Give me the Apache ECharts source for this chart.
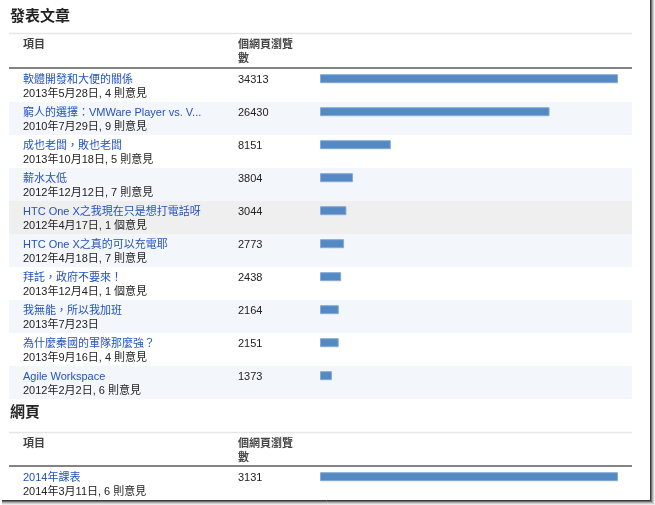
<!DOCTYPE html>
<html><head><meta charset="utf-8">
<script src="https://cdn.jsdelivr.net/npm/echarts@6/dist/echarts.min.js"></script>
<style>html,body{margin:0;padding:0;background:#fff;}#c{width:655px;height:505px;}</style>
</head><body><div id="c"></div>
<script>
// ---- data ----
const postTitles = ['軟體開發和大便的關係','窮人的選擇：VMWare Player vs. V...','成也老闆，敗也老闆','薪水太低','HTC One X之我現在只是想打電話呀','HTC One X之真的可以充電耶','拜託，政府不要來！','我無能，所以我加班','為什麼秦國的軍隊那麼強？','Agile Workspace'];
const postDates = ['2013年5月28日, 4 則意見','2010年7月29日, 9 則意見','2013年10月18日, 5 則意見','2012年12月12日, 7 則意見','2012年4月17日, 1 個意見','2012年4月18日, 7 則意見','2013年12月4日, 1 個意見','2013年7月23日','2013年9月16日, 4 則意見','2012年2月2日, 6 則意見'];
const postViews = [34313, 26430, 8151, 3804, 3044, 2773, 2438, 2164, 2151, 1373];
const pageTitles = ['2014年課表'];
const pageDates = ['2014年3月11日, 6 則意見'];
const pageViews = [3131];
const sectionTitles = ['發表文章', '網頁'];
const headerItem = '項目';
const headerViews = '個網頁瀏覽\n數';

const FONT = '"Liberation Sans", Arial, "Noto Sans CJK TC", sans-serif';
const chart = echarts.init(document.getElementById('c'), null, {renderer: 'canvas'});

function labelFmt(titles, dates, views) {
  return function (v, i) {
    return '{t|' + titles[i] + '}{n|' + views[i] + '}\n{d|' + dates[i] + '}';
  };
}
const rich = {
  t: {width: 215, fontSize: 11, lineHeight: 14, color: '#2352c4', fontFamily: FONT},
  n: {fontSize: 11, lineHeight: 14, color: '#222', fontFamily: FONT},
  d: {fontSize: 11, lineHeight: 14, color: '#222', fontFamily: FONT}
};

const rowCols1 = ['#ffffff','#f3f6fb','#ffffff','#f3f6fb','#efefef','#f3f6fb','#ffffff','#f3f6fb','#ffffff','#f3f6fb'];

function bgY(gridIndex, titles, dates, views, colors) {
  return {
    type: 'category', gridIndex: gridIndex, inverse: true, data: titles,
    axisLine: {show: false}, axisTick: {show: false}, splitLine: {show: false},
    splitArea: {show: true, interval: 0, areaStyle: {color: colors}},
    axisLabel: {show: true, inside: true, interval: 0, margin: 14, align: 'left',
      padding: [2, 0, 0, 0],
      formatter: labelFmt(titles, dates, views), rich: rich}
  };
}
function barY(gridIndex, titles) {
  return {type: 'category', gridIndex: gridIndex, inverse: true, data: titles, show: false};
}

const option = {
  backgroundColor: '#ffffff',
  animation: false,
  grid: [
    {left: 9, top: 69, width: 623, height: 330},
    {left: 320, top: 62.2, width: 298, height: 330},
    {left: 9, top: 467, width: 623, height: 33},
    {left: 320, top: 460.2, width: 298, height: 33}
  ],
  xAxis: [
    {type: 'value', gridIndex: 0, min: 0, max: 1, show: false},
    {type: 'value', gridIndex: 1, min: 0, max: 'dataMax', show: false},
    {type: 'value', gridIndex: 2, min: 0, max: 1, show: false},
    {type: 'value', gridIndex: 3, min: 0, max: 'dataMax', show: false}
  ],
  yAxis: [
    bgY(0, postTitles, postDates, postViews, rowCols1),
    barY(1, postTitles),
    bgY(2, pageTitles, pageDates, pageViews, ['#ffffff']),
    barY(3, pageTitles)
  ],
  series: [
    {type: 'bar', xAxisIndex: 1, yAxisIndex: 1, data: postViews, barWidth: 9,
      itemStyle: {color: '#5589c4', borderColor: '#86a9d6', borderWidth: 1}, silent: true},
    {type: 'bar', xAxisIndex: 3, yAxisIndex: 3, data: pageViews, barWidth: 9,
      itemStyle: {color: '#5589c4', borderColor: '#86a9d6', borderWidth: 1}, silent: true}
  ],
  graphic: [
    // section titles
    {type: 'text', left: 10, top: 9, style: {text: sectionTitles[0], font: 'bold 15px ' + FONT, fill: '#222'}},
    {type: 'text', left: 10, top: 405, style: {text: sectionTitles[1], font: 'bold 15px ' + FONT, fill: '#222'}},
    // table 1 header
    {type: 'line', shape: {x1: 9, y1: 33.5, x2: 632, y2: 33.5}, style: {stroke: '#e6e6e6', lineWidth: 1.5}},
    {type: 'text', left: 23, top: 38, style: {text: headerItem, font: 'bold 11px ' + FONT, fill: '#444', lineHeight: 14}},
    {type: 'text', left: 238, top: 38, style: {text: headerViews, font: 'bold 11px ' + FONT, fill: '#444', lineHeight: 14}},
    {type: 'line', shape: {x1: 9, y1: 68, x2: 632, y2: 68}, style: {stroke: '#5a5a5a', lineWidth: 1.5}},
    // table 2 header
    {type: 'line', shape: {x1: 9, y1: 432.5, x2: 632, y2: 432.5}, style: {stroke: '#e6e6e6', lineWidth: 1.5}},
    {type: 'text', left: 23, top: 437, style: {text: headerItem, font: 'bold 11px ' + FONT, fill: '#444', lineHeight: 14}},
    {type: 'text', left: 238, top: 437, style: {text: headerViews, font: 'bold 11px ' + FONT, fill: '#444', lineHeight: 14}},
    {type: 'line', shape: {x1: 9, y1: 466, x2: 632, y2: 466}, style: {stroke: '#5a5a5a', lineWidth: 1.5}},
    // frame with shadow
    {type: 'rect', shape: {x: 650, y: 0, width: 5, height: 505}, style: {fill: '#ffffff'}, z: 90},
    {type: 'rect', shape: {x: 0, y: 500, width: 655, height: 5}, style: {fill: '#ffffff'}, z: 90},
    {type: 'line', shape: {x1: 654.5, y1: 0, x2: 654.5, y2: 505}, style: {stroke: '#ececec', lineWidth: 1}, z: 100},
    {type: 'line', shape: {x1: 653.5, y1: 0, x2: 653.5, y2: 504}, style: {stroke: '#d0d0d0', lineWidth: 1}, z: 100},
    {type: 'line', shape: {x1: 652.5, y1: 0, x2: 652.5, y2: 503}, style: {stroke: '#a8a8a8', lineWidth: 1}, z: 100},
    {type: 'line', shape: {x1: 651.5, y1: 0, x2: 651.5, y2: 502}, style: {stroke: '#707070', lineWidth: 1}, z: 100},
    {type: 'line', shape: {x1: 650.5, y1: 0, x2: 650.5, y2: 501}, style: {stroke: '#3a3a3a', lineWidth: 1}, z: 100},
    {type: 'line', shape: {x1: 2, y1: 504.5, x2: 655, y2: 504.5}, style: {stroke: '#ececec', lineWidth: 1}, z: 100},
    {type: 'line', shape: {x1: 2, y1: 503.5, x2: 654, y2: 503.5}, style: {stroke: '#d0d0d0', lineWidth: 1}, z: 100},
    {type: 'line', shape: {x1: 2, y1: 502.5, x2: 653, y2: 502.5}, style: {stroke: '#a8a8a8', lineWidth: 1}, z: 100},
    {type: 'line', shape: {x1: 2, y1: 501.5, x2: 652, y2: 501.5}, style: {stroke: '#707070', lineWidth: 1}, z: 100},
    {type: 'line', shape: {x1: 2, y1: 500.5, x2: 651, y2: 500.5}, style: {stroke: '#3a3a3a', lineWidth: 1}, z: 100}
  ]
};
chart.setOption(option);
</script>
</body></html>
